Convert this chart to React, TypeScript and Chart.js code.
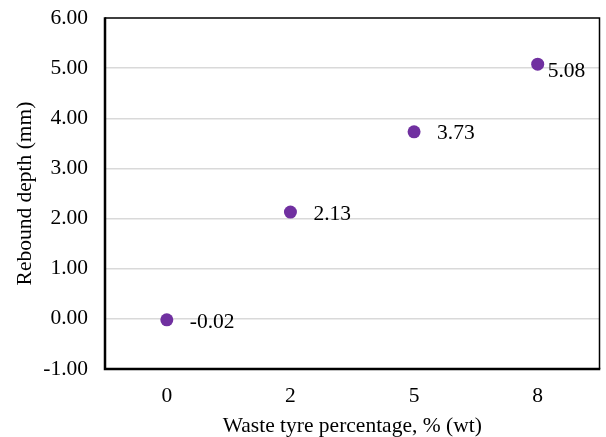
import React, { useEffect, useRef } from "react";
import { Chart, registerables } from "chart.js";

Chart.register(...registerables);

const categories = ["0", "2", "5", "8"];
const reboundDepth = [-0.02, 2.13, 3.73, 5.08];
const yMin = -1;
const yMax = 6;
const yStep = 1;

const FONT = "'Liberation Serif', 'Times New Roman', serif";
const FONT_SIZE = 21.5;
const POINT_COLOR = "#7030A0";

// Value labels placed to the right of each point
const valueLabels = {
  id: "valueLabels",
  afterDatasetsDraw(chart: any) {
    const ctx = chart.ctx;
    const meta = chart.getDatasetMeta(0);
    const values = chart.data.datasets[0].data as number[];
    ctx.save();
    ctx.font = `${FONT_SIZE}px ${FONT}`;
    ctx.fillStyle = "#000";
    ctx.textBaseline = "middle";
    ctx.textAlign = "left";
    meta.data.forEach((pt: any, i: number) => {
      const last = i === values.length - 1;
      const dx = last ? 10 : 23;
      const dy = last ? 7 : 2;
      ctx.fillText(values[i].toFixed(2), pt.x + dx, pt.y + dy);
    });
    ctx.restore();
  },
};

// Frame around the plot area: heavier left/bottom axes, lighter top/right
const plotFrame = {
  id: "plotFrame",
  afterDraw(chart: any) {
    const { ctx, chartArea: a } = chart;
    ctx.save();
    ctx.strokeStyle = "#000";
    ctx.lineWidth = 1.5;
    ctx.beginPath();
    ctx.moveTo(a.left, a.top);
    ctx.lineTo(a.right, a.top);
    ctx.lineTo(a.right, a.bottom);
    ctx.stroke();
    ctx.lineWidth = 2.5;
    ctx.beginPath();
    ctx.moveTo(a.left, a.top - 0.75);
    ctx.lineTo(a.left, a.bottom);
    ctx.lineTo(a.right + 0.75, a.bottom);
    ctx.stroke();
    ctx.restore();
  },
};

export default function App() {
  const canvasRef = useRef<HTMLCanvasElement | null>(null);

  useEffect(() => {
    if (!canvasRef.current) return;
    const chart = new Chart(canvasRef.current, {
      type: "line",
      data: {
        labels: categories,
        datasets: [
          {
            data: reboundDepth,
            showLine: false,
            pointRadius: 6.5,
            pointHoverRadius: 6.5,
            pointBackgroundColor: POINT_COLOR,
            pointBorderColor: POINT_COLOR,
            pointBorderWidth: 0,
          },
        ],
      },
      options: {
        animation: false,
        responsive: false,
        maintainAspectRatio: false,
        layout: { padding: { top: 18, right: 4, left: 12, bottom: 0 } },
        plugins: {
          legend: { display: false },
          tooltip: { enabled: false },
        },
        scales: {
          x: {
            type: "category",
            offset: true,
            grid: { display: false, drawTicks: false },
            border: { display: false },
            ticks: {
              font: { family: FONT, size: FONT_SIZE },
              color: "#000",
              padding: 14,
            },
            title: {
              display: true,
              text: "Waste tyre percentage, % (wt)",
              font: { family: FONT, size: FONT_SIZE, lineHeight: 1 },
              color: "#000",
              padding: { top: 4, bottom: 0 },
            },
            afterFit(scale: any) {
              scale.height = 68;
              scale.paddingLeft = 0;
              scale.paddingRight = 0;
            },
          },
          y: {
            min: yMin,
            max: yMax,
            grid: {
              color: (c: any) =>
                c.tick && (c.tick.value === yMin || c.tick.value === yMax)
                  ? "rgba(0,0,0,0)"
                  : "#d9d9d9",
              lineWidth: 1.5,
              drawTicks: false,
            },
            border: { display: false },
            ticks: {
              stepSize: yStep,
              font: { family: FONT, size: FONT_SIZE },
              color: "#000",
              padding: 17,
              callback: (v: any) => Number(v).toFixed(2),
            },
            title: {
              display: true,
              text: "Rebound depth (mm)",
              font: { family: FONT, size: FONT_SIZE },
              color: "#000",
              padding: { top: 0, bottom: 0 },
            },
            afterFit(scale: any) {
              scale.width = 93;
              scale.paddingTop = 0;
              scale.paddingBottom = 0;
            },
          },
        },
      },
      plugins: [valueLabels, plotFrame],
    });
    return () => chart.destroy();
  }, []);

  return (
    <div style={{ position: "fixed", left: 0, top: 0, width: 606, height: 437, background: "#fff" }}>
      <canvas ref={canvasRef} width={606} height={437} style={{ width: 606, height: 437 }} />
    </div>
  );
}
